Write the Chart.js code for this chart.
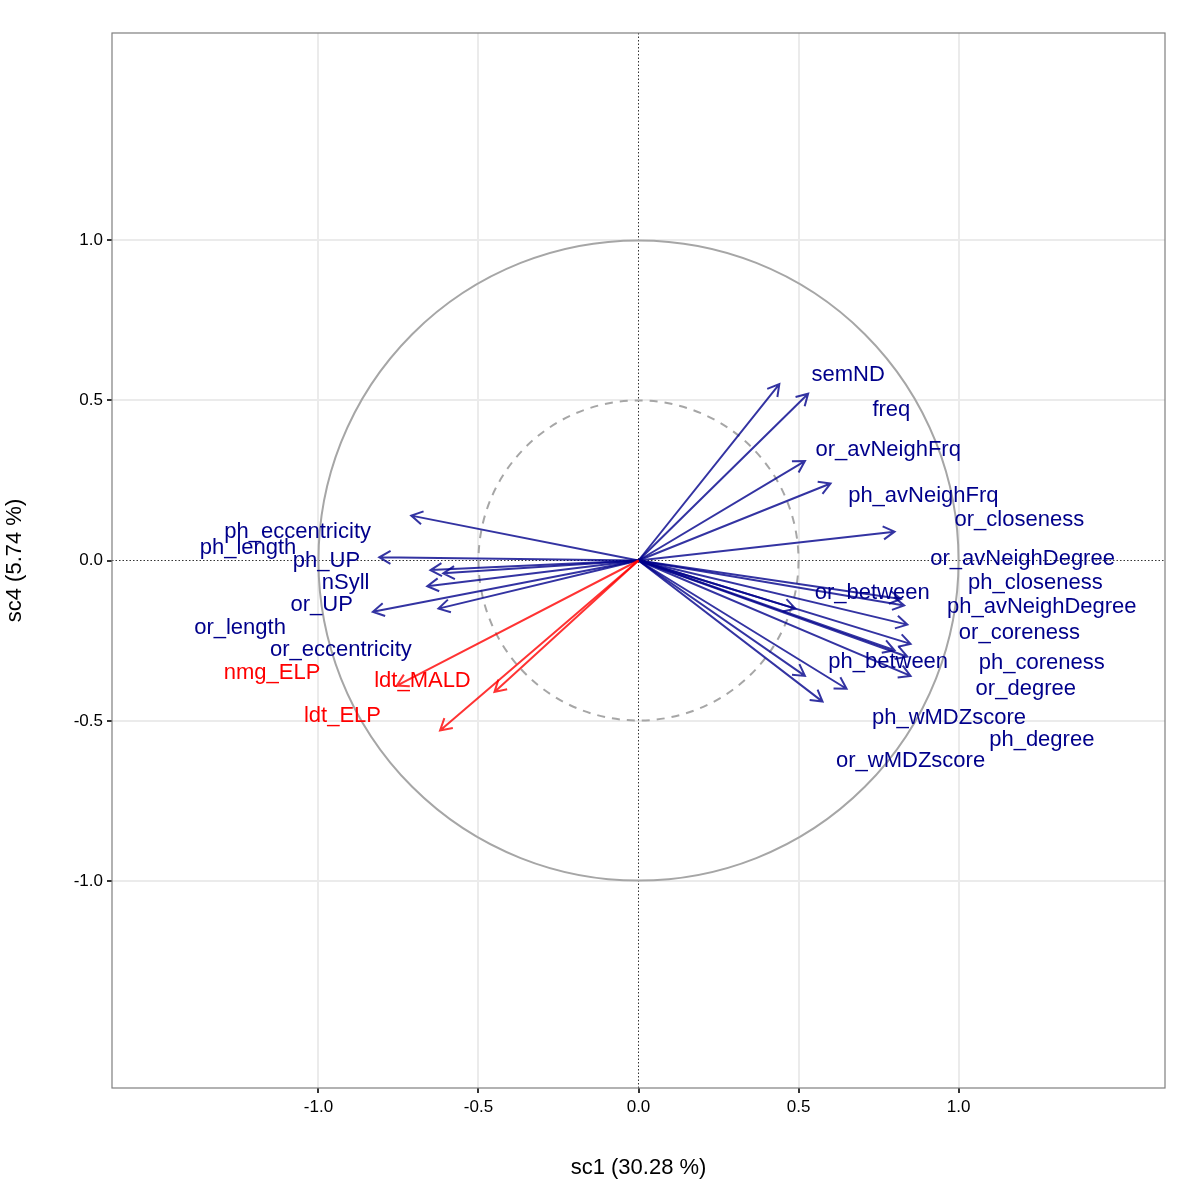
<!DOCTYPE html>
<html>
<head>
<meta charset="utf-8">
<script src="https://cdn.jsdelivr.net/npm/chart.js@4"></script>
<style>
  html, body { margin: 0; padding: 0; background: #fff; }
  #wrap { width: 1200px; height: 1183px; }
</style>
</head>
<body>
<div id="wrap"><canvas id="myChart"></canvas></div>
<script>
// variable names, arrow tips (sc1, sc4) and label positions
const varNames = ['semND', 'freq', 'or_avNeighFrq', 'ph_avNeighFrq', 'or_closeness', 'or_avNeighDegree',
  'or_between', 'ph_closeness', 'ph_avNeighDegree', 'or_coreness', 'ph_between', 'ph_coreness',
  'or_degree', 'ph_wMDZscore', 'ph_degree', 'or_wMDZscore',
  'ph_eccentricity', 'ph_length', 'ph_UP', 'nSyll', 'or_UP', 'or_length', 'or_eccentricity',
  'nmg_ELP', 'ldt_MALD', 'ldt_ELP'];
const tipX = [0.53, 0.44, 0.52, 0.60, 0.80, 0.82, 0.49, 0.83, 0.84, 0.85, 0.52, 0.84, 0.85, 0.65, 0.80, 0.575,
  -0.71, -0.81, -0.61, -0.65, -0.83, -0.66, -0.625,
  -0.755, -0.45, -0.62];
const tipY = [0.52, 0.55, 0.31, 0.24, 0.09, -0.12, -0.15, -0.14, -0.20, -0.26, -0.36, -0.30, -0.36, -0.40, -0.28, -0.44,
  0.14, 0.01, -0.04, -0.03, -0.16, -0.08, -0.15,
  -0.39, -0.41, -0.53];
const labelX = [0.655, 0.79, 0.78, 0.89, 1.19, 1.20, 0.73, 1.24, 1.26, 1.19, 0.78, 1.26, 1.21, 0.97, 1.26, 0.85,
  -1.065, -1.22, -0.975, -0.915, -0.99, -1.245, -0.93,
  -1.145, -0.675, -0.925];
const labelY = [0.58, 0.47, 0.345, 0.20, 0.125, 0.006, -0.10, -0.07, -0.145, -0.225, -0.315, -0.32, -0.40, -0.49, -0.56, -0.625,
  0.09, 0.04, 0.0, -0.07, -0.14, -0.21, -0.28,
  -0.35, -0.375, -0.485];
const isOutcome = [0,0,0,0,0,0,0,0,0,0,0,0,0,0,0,0, 0,0,0,0,0,0,0, 1,1,1];
const tickValues = [-1, -0.5, 0, 0.5, 1];

const lim = 1.645;
const font = 'Liberation Sans, Arial, sans-serif';

const biplot = {
  id: 'biplot',
  beforeDatasetsDraw(chart) {
    const { ctx, chartArea: a, scales: { x, y } } = chart;
    ctx.save();
    ctx.beginPath(); ctx.rect(a.left, a.top, a.right - a.left, a.bottom - a.top); ctx.clip();
    // zero lines
    ctx.strokeStyle = '#333'; ctx.lineWidth = 1; ctx.setLineDash([1.5, 2]);
    ctx.beginPath();
    ctx.moveTo(x.getPixelForValue(0), a.top); ctx.lineTo(x.getPixelForValue(0), a.bottom);
    ctx.moveTo(a.left, y.getPixelForValue(0)); ctx.lineTo(a.right, y.getPixelForValue(0));
    ctx.stroke();
    // circles
    const cx = x.getPixelForValue(0), cy = y.getPixelForValue(0);
    const r1 = x.getPixelForValue(1) - cx, r5 = x.getPixelForValue(0.5) - cx;
    ctx.setLineDash([]); ctx.strokeStyle = '#a6a6a6'; ctx.lineWidth = 2;
    ctx.beginPath(); ctx.arc(cx, cy, r1, 0, Math.PI * 2); ctx.stroke();
    ctx.setLineDash([8, 7]);
    ctx.beginPath(); ctx.arc(cx, cy, r5, 0, Math.PI * 2); ctx.stroke();
    ctx.setLineDash([]);
    // arrows
    ctx.lineWidth = 2;
    varNames.forEach((n, i) => {
      const px = x.getPixelForValue(tipX[i]), py = y.getPixelForValue(tipY[i]);
      ctx.strokeStyle = isOutcome[i] ? 'rgba(255,0,0,0.8)' : 'rgba(0,0,139,0.8)';
      ctx.beginPath(); ctx.moveTo(cx, cy); ctx.lineTo(px, py);
      const ang = Math.atan2(py - cy, px - cx), h = 13, s = Math.PI / 6;
      ctx.moveTo(px - h * Math.cos(ang - s), py - h * Math.sin(ang - s));
      ctx.lineTo(px, py);
      ctx.lineTo(px - h * Math.cos(ang + s), py - h * Math.sin(ang + s));
      ctx.stroke();
    });
    // labels
    ctx.font = '22px ' + font; ctx.textAlign = 'center'; ctx.textBaseline = 'middle';
    varNames.forEach((n, i) => {
      ctx.fillStyle = isOutcome[i] ? '#ff0000' : '#00008b';
      ctx.fillText(n, x.getPixelForValue(labelX[i]), y.getPixelForValue(labelY[i]));
    });
    ctx.restore();
  },
  afterDraw(chart) {
    const { ctx, chartArea: a } = chart;
    ctx.save(); ctx.strokeStyle = '#7f7f7f'; ctx.lineWidth = 1.2;
    ctx.strokeRect(a.left, a.top, a.right - a.left, a.bottom - a.top);
    ctx.restore();
  }
};

const axisOpts = (title, isY) => ({
  type: 'linear', min: -lim, max: lim,
  afterBuildTicks: s => { s.ticks = tickValues.map(v => ({ value: v })); },
  afterFit: s => { if (isY) s.width = 112; else s.height = 95; },
  grid: {
    color: c => c.tick && c.tick.value === 0 ? 'rgba(0,0,0,0)' : '#ebebeb',
    lineWidth: 2, tickLength: 5, tickColor: '#333', drawTicks: true
  },
  border: { display: false },
  ticks: { color: '#000', font: { size: 17, family: font }, padding: 4,
    callback: v => v.toFixed(1) },
  title: { display: true, text: title, color: '#000', font: { size: 22, family: font }, padding: 2 }
});

new Chart(document.getElementById('myChart'), {
  type: 'scatter',
  data: { datasets: [{ data: tipX.map((v, i) => ({ x: v, y: tipY[i] })), pointRadius: 0, showLine: false }] },
  options: {
    responsive: true, maintainAspectRatio: false, animation: false,
    layout: { padding: { top: 33, right: 35, left: 0, bottom: 0 } },
    plugins: { legend: { display: false }, tooltip: { enabled: false } },
    scales: { x: axisOpts('sc1 (30.28 %)', false), y: axisOpts('sc4 (5.74 %)', true) }
  },
  plugins: [biplot]
});
</script>
</body>
</html>
